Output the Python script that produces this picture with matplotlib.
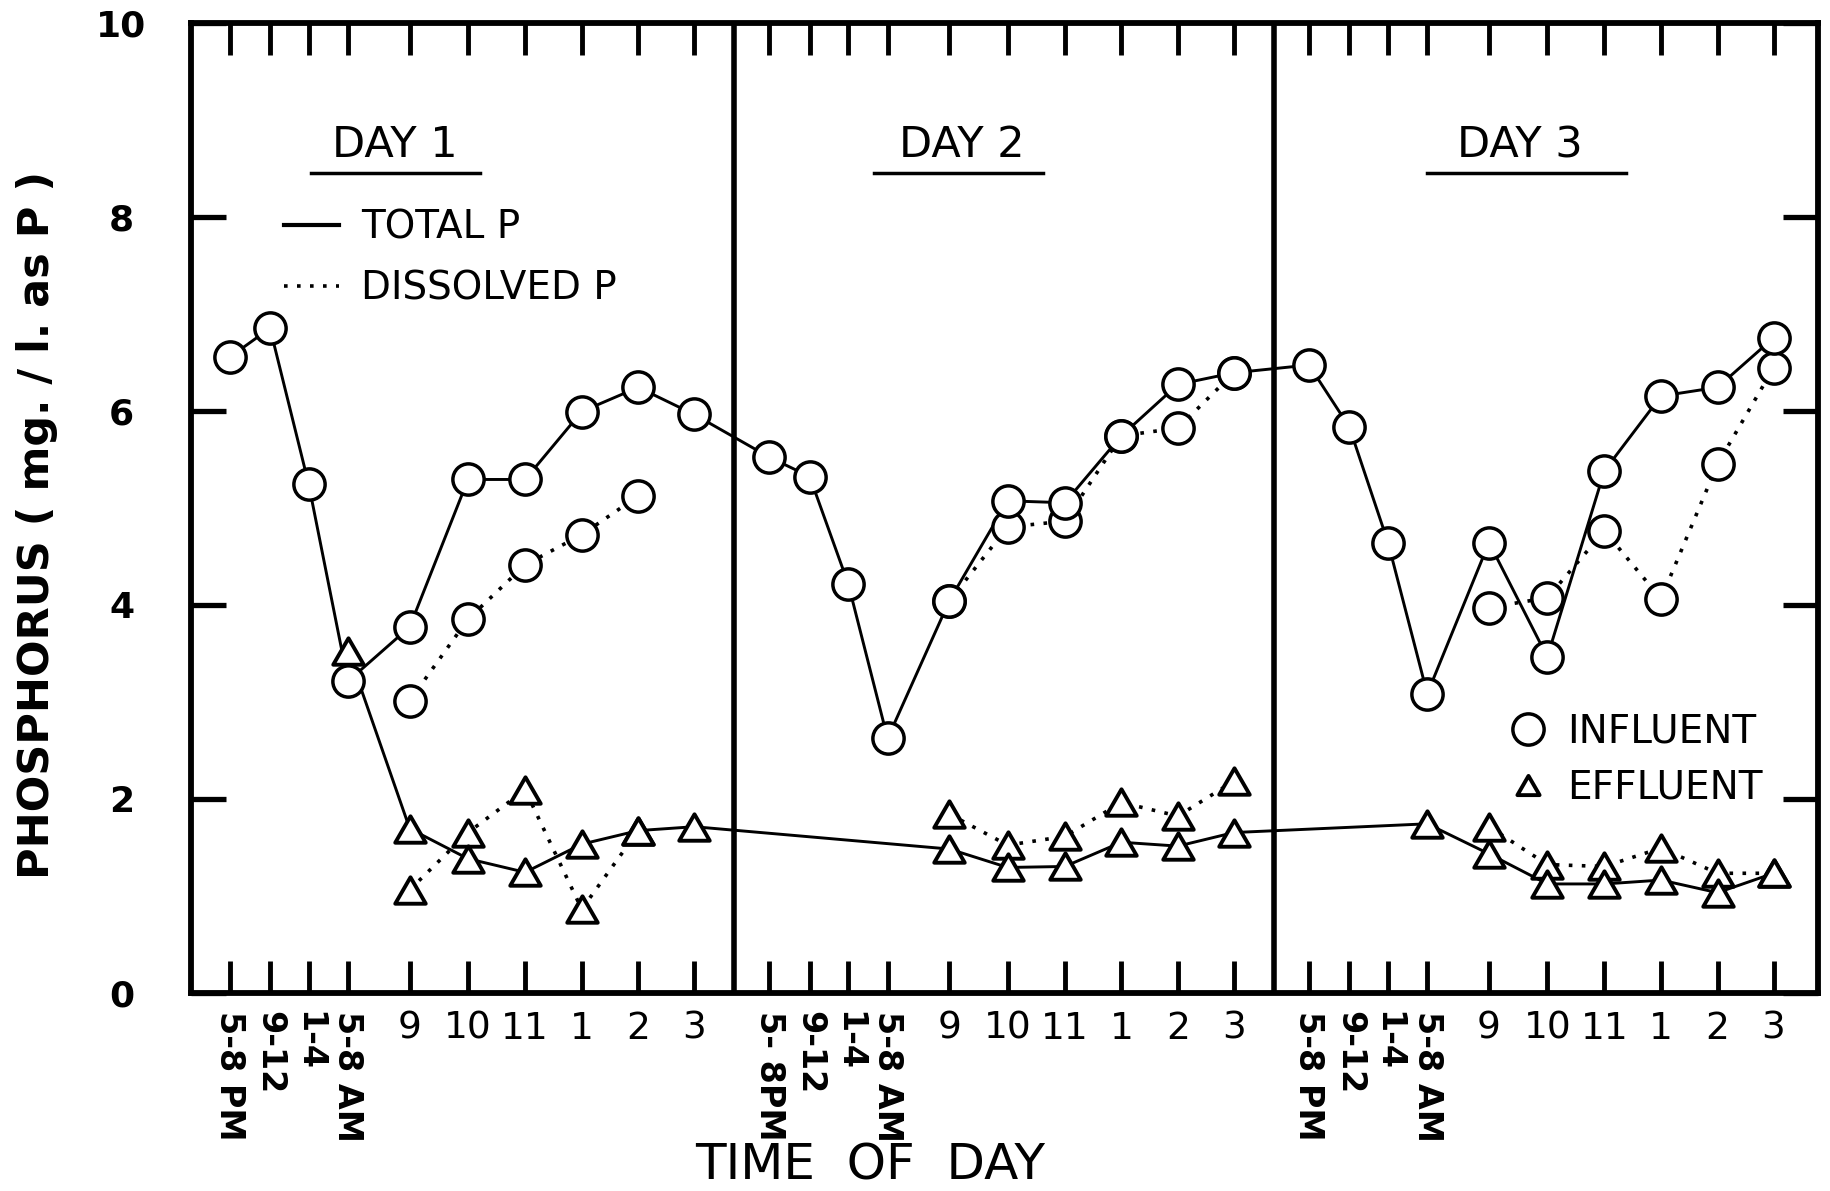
import numpy as np
import matplotlib
matplotlib.use('Agg')
import matplotlib.pyplot as plt
from matplotlib.lines import Line2D
from matplotlib.path import Path

nan = np.nan

# horas de muestreo de cada dia (la escala del original no es uniforme)
slots = [0, 0.7, 1.37, 2.05, 3.12, 4.13, 5.12, 6.1, 7.08, 8.05]
day_step = 9.35
day_names = ['DAY 1', 'DAY 2', 'DAY 3']
labels_d1 = ['5-8 PM', '9-12', '1-4', '5-8 AM', '9', '10', '11', '1', '2', '3']
labels_d2 = ['5- 8PM', '9-12', '1-4', '5-8 AM', '9', '10', '11', '1', '2', '3']
labels_d3 = ['5-8 PM', '9-12', '1-4', '5-8 AM', '9', '10', '11', '1', '2', '3']

# influente, P total y P disuelto (mg/l como P)
total_inf_d1 = [6.55, 6.85, 5.24, 3.21, 3.77, 5.29, 5.29, 5.99, 6.24, 5.96]
total_inf_d2 = [5.52, 5.32, 4.21, 2.62, 4.04, 5.07, 5.05, 5.74, 6.27, 6.39]
total_inf_d3 = [6.47, 5.83, 4.64, 3.08, 4.64, 3.46, 5.38, 6.15, 6.24, 6.75]
diss_inf_d1 = [nan, nan, nan, nan, 3.01, 3.85, 4.41, 4.72, 5.12, nan]
diss_inf_d2 = [nan, nan, nan, nan, 4.04, 4.80, 4.86, 5.74, 5.82, 6.39]
diss_inf_d3 = [nan, nan, nan, nan, 3.97, 4.07, 4.76, 4.06, 5.45, 6.44]

# efluente
total_eff_d1 = [nan, nan, nan, 3.52, 1.69, 1.38, 1.24, 1.53, 1.67, 1.71]
total_eff_d2 = [nan, nan, nan, nan, 1.48, 1.29, 1.30, 1.55, 1.51, 1.65]
total_eff_d3 = [nan, nan, nan, 1.74, 1.43, 1.12, 1.12, 1.16, 1.03, 1.23]
diss_eff_d1 = [nan, nan, nan, nan, 1.06, 1.65, 2.09, 0.86, 1.67, nan]
diss_eff_d2 = [nan, nan, nan, nan, 1.84, 1.52, 1.61, 1.96, 1.82, 2.18]
diss_eff_d3 = [nan, nan, nan, nan, 1.71, 1.32, 1.30, 1.49, 1.23, 1.23]

plt.rcParams['font.family'] = ['DejaVu Sans']

x_days = [np.array(slots) + d * day_step for d in range(3)]
x_all = np.concatenate(x_days)

fig = plt.figure(figsize=(18.31, 11.91), dpi=100)
ax = fig.add_axes([0.1043, 0.1666, 0.9929 - 0.1043, 0.9810 - 0.1666])

solid = dict(color='black', lw=2.1, ls='-', zorder=2)
dotted = dict(color='black', lw=2.6, ls=(0, (1, 2.6)), zorder=2)
circ = dict(ls='none', marker='o', ms=22.5, mfc='white', mec='black', mew=2.5, zorder=3)
tri_path = Path([(-1, -0.866), (1, -0.866), (0, 0.866), (-1, -0.866)], closed=True)
tri = dict(ls='none', marker=tri_path, ms=22, mfc='white', mec='black', mew=2.8, zorder=3)

# lineas continuas (P total) unidas entre dias
for series in [[total_inf_d1, total_inf_d2, total_inf_d3],
               [total_eff_d1, total_eff_d2, total_eff_d3]]:
    y = np.concatenate([np.array(s, dtype=float) for s in series])
    m = ~np.isnan(y)
    ax.plot(x_all[m], y[m], **solid)

# lineas punteadas (P disuelto), una por dia
for series in [[diss_inf_d1, diss_inf_d2, diss_inf_d3],
               [diss_eff_d1, diss_eff_d2, diss_eff_d3]]:
    for d in range(3):
        y = np.array(series[d], dtype=float)
        m = ~np.isnan(y)
        ax.plot(x_days[d][m], y[m], **dotted)

for series, mk in [([diss_inf_d1, diss_inf_d2, diss_inf_d3], circ),
                   ([total_inf_d1, total_inf_d2, total_inf_d3], circ),
                   ([diss_eff_d1, diss_eff_d2, diss_eff_d3], tri),
                   ([total_eff_d1, total_eff_d2, total_eff_d3], tri)]:
    y = np.concatenate([np.array(s, dtype=float) for s in series])
    m = ~np.isnan(y)
    ax.plot(x_all[m], y[m], **mk)

# separacion de dias
for d in range(2):
    ax.axvline(slots[-1] + 0.69 + d * day_step, color='black', lw=4, zorder=1)

# titulos de cada dia, subrayados
day_text_x = [2.87, 12.69, 22.36]
day_line = [(1.41, 4.34), (11.17, 14.10), (20.75, 24.20)]
for d in range(3):
    ax.text(day_text_x[d], 8.52, day_names[d], ha='center', va='bottom', fontsize=31)
    ax.plot(day_line[d], [8.45, 8.45], color='black', lw=2.5)

ax.set_xlim(-0.67, 27.52)
ax.set_ylim(0, 10)

ax.set_xticks(x_all)
ax.set_xticklabels(labels_d1 + labels_d2 + labels_d3)
for i, lbl in enumerate(ax.get_xticklabels()):
    if i % 10 < 4:
        lbl.set_rotation(270)
        lbl.set_fontweight('bold')
        lbl.set_fontsize(24)
    else:
        lbl.set_fontsize(27)
    lbl.set_va('top')
    lbl.set_ha('center')

ax.set_yticks([0, 2, 4, 6, 8, 10])
ax.set_yticklabels(['0', '2', '4', '6', '8', '10'], fontsize=26, fontweight='bold')
for lbl in ax.get_yticklabels():
    lbl.set_ha('center')
yt = ax.yaxis.get_major_ticks()
for t in (yt[0], yt[-1]):
    t.tick1line.set_visible(False)
    t.tick2line.set_visible(False)

ax.tick_params(axis='x', direction='in', top=True, bottom=True, length=23, width=3.5, pad=13)
ax.tick_params(axis='y', direction='in', left=True, right=True, length=25, width=3.8, pad=50)
for sp in ax.spines.values():
    sp.set_linewidth(4.2)

# leyendas
h1 = [Line2D([], [], **dict(solid, lw=3)), Line2D([], [], **dotted)]
leg1 = ax.legend(h1, ['TOTAL P', 'DISSOLVED P'], loc='upper left', bbox_to_anchor=(0.057, 0.808),
                 frameon=False, fontsize=28, borderpad=0, borderaxespad=0,
                 handlelength=1.42, handletextpad=0.58, labelspacing=0.58)
ax.add_artist(leg1)
h2 = [Line2D([], [], **circ), Line2D([], [], **dict(tri, ms=16))]
ax.legend(h2, ['INFLUENT', 'EFFLUENT'], loc='upper left', bbox_to_anchor=(0.810, 0.289),
          frameon=False, fontsize=28, borderpad=0, borderaxespad=0,
          handlelength=0.97, handletextpad=0.54, labelspacing=0.48)

fig.text(37 / 1831, 1 - 525 / 1191, 'PHOSPHORUS ( mg. / l. as P )', rotation=90,
         ha='center', va='center', fontsize=31, fontweight='bold')
fig.text(870 / 1831, 1 - 1166 / 1191, 'TIME  OF  DAY', ha='center', va='center', fontsize=36)

fig.savefig('out.png', dpi=100)
